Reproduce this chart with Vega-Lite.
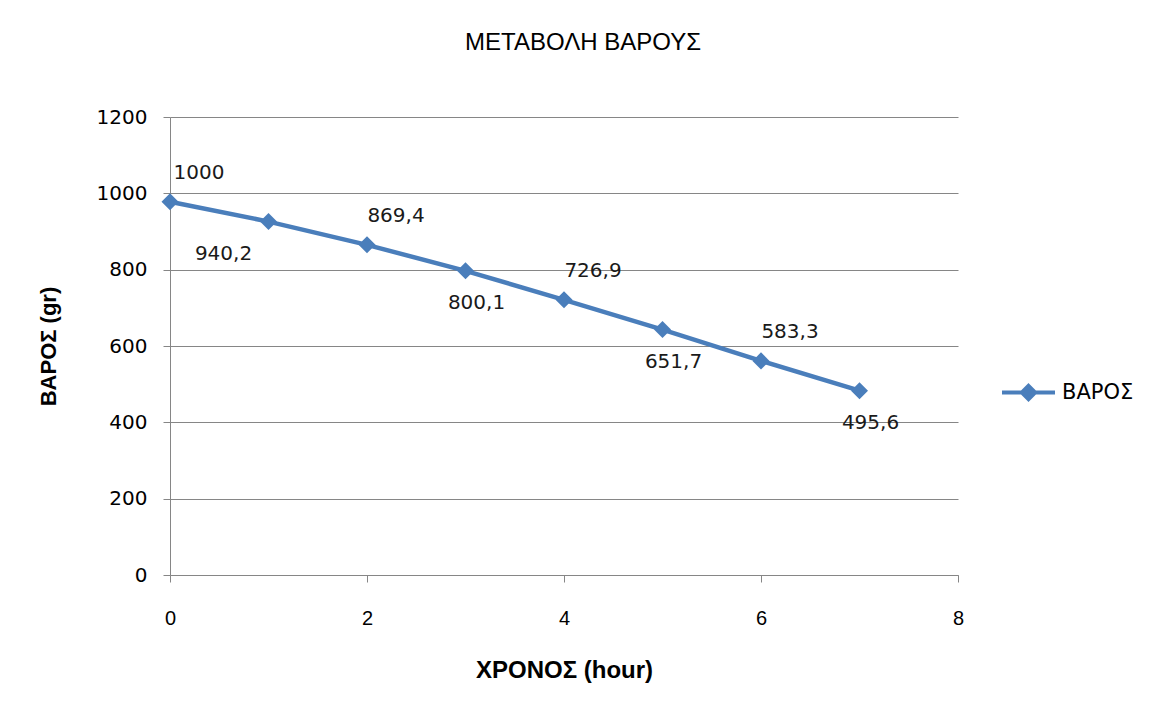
{
  "$schema": "https://vega.github.io/schema/vega-lite/v6.json",
  "width": 788,
  "height": 458,
  "autosize": "none",
  "padding": {"left": 170, "top": 117, "right": 198, "bottom": 138},
  "background": "white",
  "title": {
    "text": "ΜΕΤΑΒΟΛΗ ΒΑΡΟΥΣ",
    "font": "Liberation Sans",
    "fontSize": 24,
    "fontWeight": "normal",
    "color": "#000000",
    "anchor": "middle",
    "dx": 19,
    "baseline": "alphabetic",
    "offset": 33
  },
  "data": {
    "values": [
      {"t": 0, "w": 978, "label": "1000"},
      {"t": 1, "w": 926, "label": "940,2"},
      {"t": 2, "w": 865, "label": "869,4"},
      {"t": 3, "w": 797, "label": "800,1"},
      {"t": 4, "w": 721, "label": "726,9"},
      {"t": 5, "w": 643, "label": "651,7"},
      {"t": 6, "w": 561, "label": "583,3"},
      {"t": 7, "w": 483, "label": "495,6"}
    ]
  },
  "encoding": {
    "x": {
      "field": "t",
      "type": "quantitative",
      "scale": {"domain": [0, 8], "nice": false, "zero": false},
      "axis": {
        "values": [0, 2, 4, 6, 8],
        "format": "d",
        "grid": false,
        "labelFlush": false,
        "tickSize": 7,
        "labelFont": "Liberation Sans",
        "labelFontSize": 20,
        "labelPadding": 26,
        "labelColor": "#000000",
        "title": "ΧΡΟΝΟΣ (hour)",
        "titleFont": "Liberation Sans",
        "titleFontSize": 24,
        "titleFontWeight": "bold",
        "titleColor": "#000000",
        "titlePadding": 30
      }
    },
    "y": {
      "field": "w",
      "type": "quantitative",
      "scale": {"domain": [0, 1200], "nice": false},
      "axis": {
        "values": [0, 200, 400, 600, 800, 1000, 1200],
        "format": "d",
        "grid": true,
        "tickSize": 7,
        "labelFont": "DejaVu Sans",
        "labelFontSize": 20,
        "labelPadding": 16,
        "labelColor": "#000000",
        "title": "ΒΑΡΟΣ (gr)",
        "titleFont": "Liberation Sans",
        "titleFontSize": 22,
        "titleFontWeight": "bold",
        "titleColor": "#000000",
        "titlePadding": 36
      }
    }
  },
  "layer": [
    {
      "mark": {
        "type": "line",
        "strokeWidth": 4.5,
        "point": {"shape": "diamond", "size": 290, "filled": true}
      },
      "encoding": {
        "color": {
          "datum": "ΒΑΡΟΣ",
          "type": "nominal",
          "scale": {"range": ["#4A7EBB"]},
          "legend": {
            "title": null,
            "orient": "none",
            "legendX": 830,
            "legendY": 247,
            "padding": 0,
            "symbolType": "M-1,0H1M0,-0.25L0.25,0L0,0.25L-0.25,0Z",
            "symbolSize": 2809,
            "symbolStrokeWidth": 4,
            "symbolFillColor": "#4A7EBB",
            "symbolStrokeColor": "#4A7EBB",
            "labelFont": "DejaVu Sans",
            "labelFontSize": 21,
            "labelColor": "#000000",
            "labelOffset": 5
          }
        }
      }
    },
    {
      "transform": [{"filter": {"field": "t", "oneOf": [0, 2, 4, 6]}}],
      "mark": {"type": "text", "font": "DejaVu Sans", "fontSize": 20, "color": "#1a1a1a", "baseline": "middle", "align": "center", "dx": 29, "dy": -29},
      "encoding": {"text": {"field": "label"}}
    },
    {
      "transform": [{"filter": {"field": "t", "oneOf": [3, 5, 7]}}],
      "mark": {"type": "text", "font": "DejaVu Sans", "fontSize": 20, "color": "#1a1a1a", "baseline": "middle", "align": "center", "dx": 11, "dy": 32},
      "encoding": {"text": {"field": "label"}}
    },
    {
      "transform": [{"filter": {"field": "t", "equal": 1}}],
      "mark": {"type": "text", "font": "DejaVu Sans", "fontSize": 20, "color": "#1a1a1a", "baseline": "middle", "align": "center", "dx": -45, "dy": 32},
      "encoding": {"text": {"field": "label"}}
    }
  ],
  "config": {
    "view": {"stroke": null},
    "axis": {
      "gridColor": "#868686",
      "gridWidth": 1,
      "domainColor": "#868686",
      "domainWidth": 1,
      "tickColor": "#868686",
      "tickWidth": 1
    }
  }
}
